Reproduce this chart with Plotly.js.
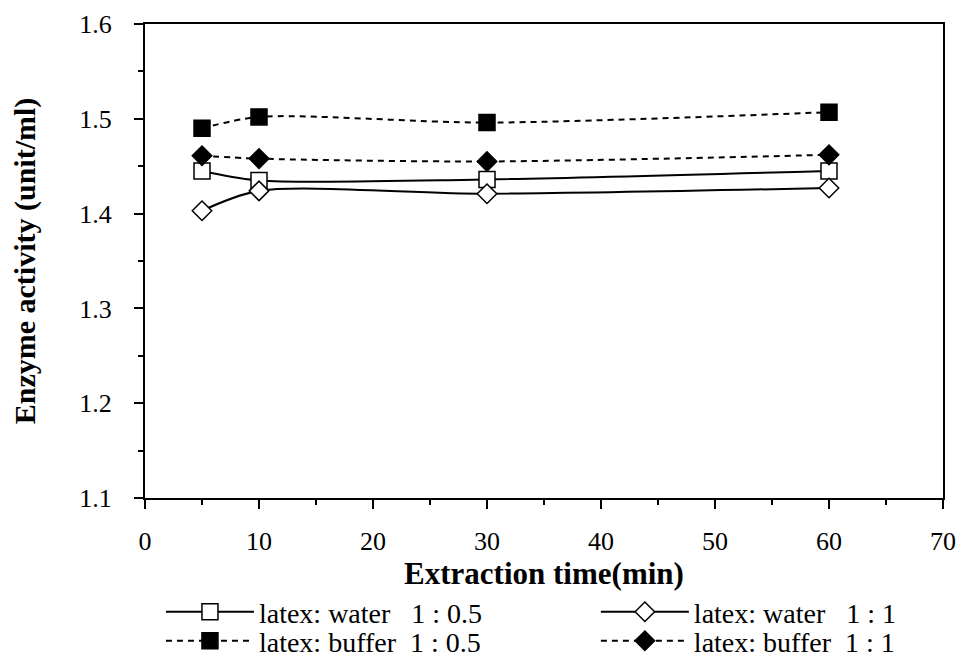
<!DOCTYPE html>
<html>
<head>
<script src="https://cdn.plot.ly/plotly-3.0.1.min.js"></script>
<style>body{margin:0;padding:0;background:#fff}#chart{width:963px;height:657px}</style>
</head>
<body>
<div id="chart"></div>
<script>
var times = [5, 10, 30, 60];
var water05 = [1.445, 1.435, 1.436, 1.445];
var water1 = [1.403, 1.424, 1.421, 1.427];
var buffer05 = [1.490, 1.502, 1.496, 1.507];
var buffer1 = [1.461, 1.458, 1.455, 1.462];
var names = ['latex: water&nbsp;&nbsp;&nbsp;1 : 0.5', 'latex: water&nbsp;&nbsp;&nbsp;1 : 1', 'latex: buffer&nbsp;&nbsp;1 : 0.5', 'latex: buffer&nbsp;&nbsp;1 : 1'];

function tr(y, name, symbol, fill, dash, size, lg) {
  return {
    x: times, y: y, name: name, type: 'scatter', mode: 'lines+markers', legend: lg,
    line: {color: '#000', width: 2, shape: 'spline', smoothing: 0.8, dash: dash},
    marker: {symbol: symbol, size: size, color: fill, line: {color: '#000', width: 1.5}}
  };
}
var data = [
  tr(water05, names[0], 'square', '#fff', 'solid', 16, 'legend'),
  tr(water1, names[1], 'diamond', '#fff', 'solid', 15, 'legend2'),
  tr(buffer05, names[2], 'square', '#000', '6px,5px', 16, 'legend3'),
  tr(buffer1, names[3], 'diamond', '#000', '6px,5px', 15, 'legend4')
];
var fam = '"Liberation Serif", "Times New Roman", serif';
var font = {family: fam, size: 26, color: '#000'};
var lfont = {family: fam, size: 28, color: '#000'};
function leg(x, y) {
  return {x: x, y: y, xanchor: 'left', yanchor: 'middle', orientation: 'v',
    itemwidth: 88, font: lfont, bgcolor: 'rgba(0,0,0,0)', borderwidth: 0};
}
var layout = {
  width: 963, height: 657,
  margin: {l: 145, r: 20, t: 24, b: 159, autoexpand: false},
  paper_bgcolor: '#fff', plot_bgcolor: '#fff',
  font: font,
  showlegend: true,
  xaxis: {
    range: [0, 70], dtick: 10, tick0: 0, ticks: 'outside', ticklen: 9, tickwidth: 2, tickcolor: '#000',
    showline: true, linecolor: '#000', linewidth: 2, mirror: true, showgrid: false, zeroline: false,
    ticklabelstandoff: 10, tickfont: font,
    minor: {dtick: 5, ticks: 'outside', ticklen: 5, tickwidth: 2, tickcolor: '#000', showgrid: false},
    title: {text: '<b>Extraction time(min)</b>', font: {family: fam, size: 31, color: '#000'}, standoff: 1}
  },
  yaxis: {
    range: [1.1, 1.6], dtick: 0.1, tick0: 1.1, ticks: 'outside', ticklen: 9, tickwidth: 2, tickcolor: '#000',
    tickformat: '.1f', tickfont: font,
    showline: true, linecolor: '#000', linewidth: 2, mirror: true, showgrid: false, zeroline: false,
    ticklabelstandoff: 17,
    minor: {dtick: 0.05, ticks: 'outside', ticklen: 5, tickwidth: 2, tickcolor: '#000', showgrid: false},
    title: {text: '<b>Enzyme activity (unit/ml)</b>', font: {family: fam, size: 30, color: '#000'}, standoff: 35}
  },
  legend: leg(0.02, -0.2405),
  legend2: leg(0.565, -0.2405),
  legend3: leg(0.02, -0.3017),
  legend4: leg(0.565, -0.3017)
};
Plotly.newPlot('chart', data, layout, {displayModeBar: false});
</script>
</body>
</html>
